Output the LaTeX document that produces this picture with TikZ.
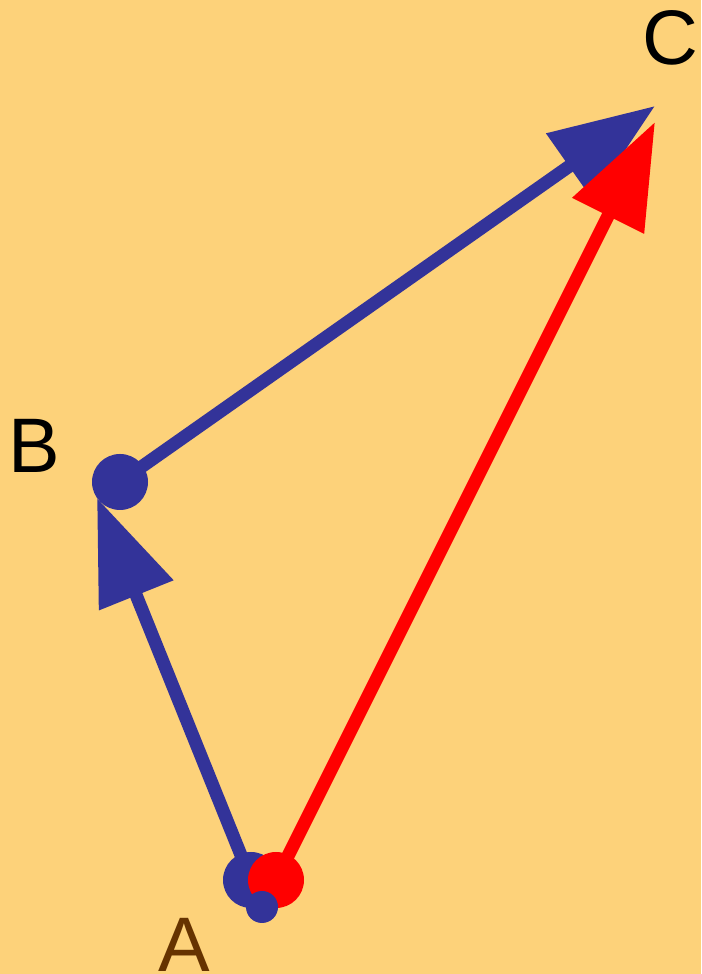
\documentclass[tikz,border=0pt]{standalone}
\usepackage{fontspec}
\setmainfont{Liberation Sans}
\usepackage{tikz}
\usetikzlibrary{arrows.meta}
\definecolor{bgyellow}{RGB}{253,210,122}
\definecolor{vecblue}{RGB}{51,51,153}
\definecolor{vecred}{RGB}{255,0,0}
\definecolor{labbrown}{RGB}{102,51,0}

\begin{document}
\begin{tikzpicture}[
  dot/.style={circle, inner sep=0pt, minimum size=0.56cm},
  vec/.style={-{Triangle[length=1.05cm, width=0.77cm]}, line width=0.13cm},
  lab/.style={inner sep=0pt, font=\fontsize{22}{26}\selectfont},
]
\fill[bgyellow] (0,0) rectangle (7.01,9.74);
\useasboundingbox (0,0) rectangle (7.01,9.74);
% points
\node[dot, fill=vecblue] (A) at (2.51,0.94) {};
\coordinate (tipB)  at (0.97,4.76);
\coordinate (tipCb) at (6.55,8.68);
\coordinate (tipCr) at (6.55,8.52);
% blue path A -> B -> C
\draw[vec, vecblue] (A.center) -- (tipB);
\node[dot, fill=vecblue] (B) at (1.20,4.92) {};
\draw[vec, vecblue] (B.center) -- (tipCb);
% red vector A -> C
\node[dot, fill=vecred] (Ared) at (2.76,0.94) {};
\draw[vec, vecred] (Ared.center) -- (tipCr);
\node[dot, fill=vecblue, minimum size=0.32cm] (Asmall) at (2.62,0.67) {};
% labels
\node[lab, text=labbrown] (labA) at (1.84,0.29) {A};
\node[lab] (labB) at (0.34,5.28) {B};
\node[lab] (labC) at (6.70,9.36) {C};
\end{tikzpicture}
\end{document}
